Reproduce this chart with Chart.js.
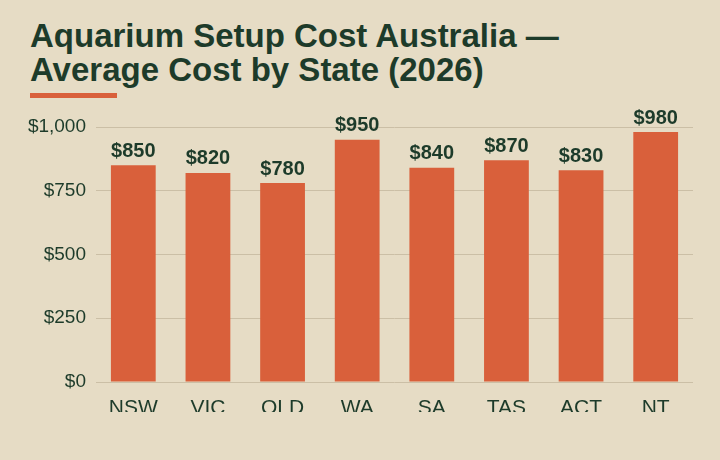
<!DOCTYPE html>
<html><head><meta charset="utf-8">
<script src="https://cdn.jsdelivr.net/npm/chart.js@4"></script>
<style>
body{margin:0;width:720px;height:460px;background:#e6dcc5;overflow:hidden;font-family:"Liberation Sans",Arial,sans-serif;position:relative}
h1{position:absolute;left:30px;top:19px;margin:0;font-size:33px;line-height:34px;font-weight:bold;color:#1d3b2a}
#u{position:absolute;left:30px;top:93px;width:87px;height:5px;background:#d9603b}
#w{position:absolute;left:0;top:100px;width:720px;height:360px}
</style></head><body>
<h1>Aquarium Setup Cost Australia —<br>Average Cost by State (2026)</h1>
<div id="u"></div>
<div id="w"><canvas id="c"></canvas></div>
<script>
const categories=["NSW","VIC","QLD","WA","SA","TAS","ACT","NT"];
const costs=[850,820,780,950,840,870,830,980];
const yTicks=[0,250,500,750,1000];
const ink="#1d3b2a";
const labelPlugin={id:"lbl",afterDatasetsDraw(ch){const c=ch.ctx;const m=ch.getDatasetMeta(0);c.save();c.font="bold 20px 'Liberation Sans',Arial";c.fillStyle=ink;c.textAlign="center";c.textBaseline="bottom";m.data.forEach((b,i)=>c.fillText("$"+costs[i],b.x,b.y-4));c.restore();}};
new Chart(document.getElementById("c"),{type:"bar",
data:{labels:categories,datasets:[{data:costs,backgroundColor:"#d9603b",barPercentage:0.6,categoryPercentage:1}]},
options:{responsive:true,maintainAspectRatio:false,animation:false,
layout:{padding:{top:27,right:27,bottom:48,left:0}},
plugins:{legend:{display:false},tooltip:{enabled:false}},
scales:{
y:{min:0,max:1000,afterBuildTicks(s){s.ticks=yTicks.map(v=>({value:v}));},afterFit(s){s.width=96;},
border:{display:false},grid:{color:"#cbbfa6",drawTicks:false},
ticks:{padding:10,color:ink,font:{size:19,family:"'Liberation Sans',Arial"},callback:v=>"$"+v.toLocaleString("en-US")}},
x:{afterFit(s){s.height=30;},border:{display:false},grid:{display:false},
ticks:{padding:6,color:ink,font:{size:21,family:"'Liberation Sans',Arial"}}}}},
plugins:[labelPlugin]});
</script></body></html>
